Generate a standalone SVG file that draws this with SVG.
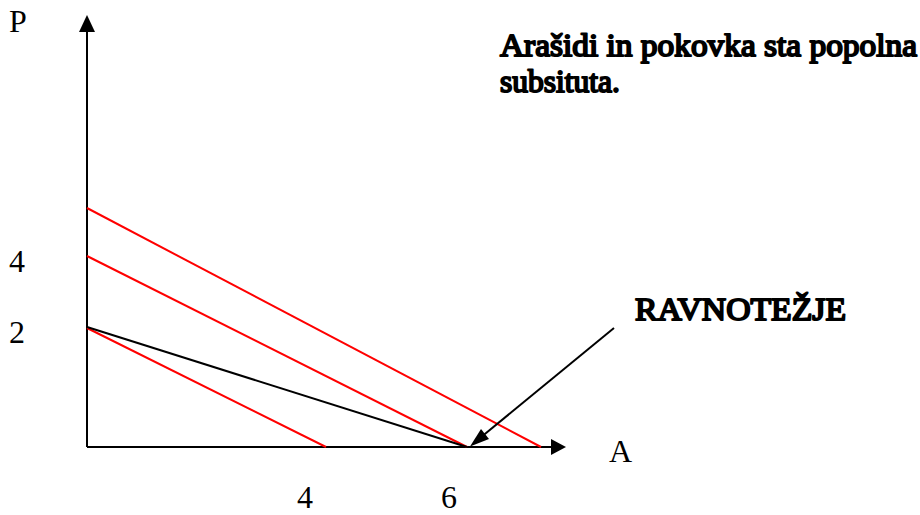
<svg xmlns="http://www.w3.org/2000/svg" width="920" height="515" viewBox="0 0 920 515">
<style>
.t{font-family:"Liberation Serif","Times New Roman",serif;font-size:32px;fill:#000}
.b{font-size:31.5px;stroke:#000;stroke-width:1.9;stroke-linejoin:round;paint-order:stroke}
.ax{stroke:#000;stroke-width:2;fill:none}
.red{stroke:#ff0000;stroke-width:2;fill:none}
.blk{stroke:#000;stroke-width:2;fill:none}
</style>
<rect width="920" height="515" fill="#fff"/>
<g id="axes">
<line class="ax" x1="87" y1="447" x2="87" y2="30"/>
<polygon points="87,15 79,32 95,32" fill="#000"/>
<line class="ax" x1="87" y1="447" x2="552" y2="447"/>
<polygon points="566,447 551,439 551,455" fill="#000"/>
</g>
<g id="connectors">
<line class="red" x1="87" y1="208" x2="541" y2="447"/>
<line class="red" x1="87" y1="256" x2="467" y2="447"/>
<line class="red" x1="87" y1="328" x2="326" y2="447"/>
<line class="blk" x1="87" y1="327" x2="467" y2="447"/>
<line class="blk" x1="614" y1="328" x2="480" y2="438"/>
<polygon points="470,446.5 481,429 489,439" fill="#000"/>
</g>
<g id="labels">
<text class="t" x="9" y="32">P</text>
<text class="t" x="9" y="272">4</text>
<text class="t" x="9" y="343">2</text>
<text class="t" x="609" y="462">A</text>
<text class="t" x="297" y="508">4</text>
<text class="t" x="441" y="508">6</text>
<text class="t b" x="500" y="56" textLength="417" lengthAdjust="spacingAndGlyphs">Arašidi in pokovka sta popolna</text>
<text class="t b" x="500" y="92" textLength="120" lengthAdjust="spacingAndGlyphs">subsituta.</text>
<text class="t b" x="635" y="320" textLength="211" lengthAdjust="spacingAndGlyphs">RAVNOTEŽJE</text>
</g>
</svg>
